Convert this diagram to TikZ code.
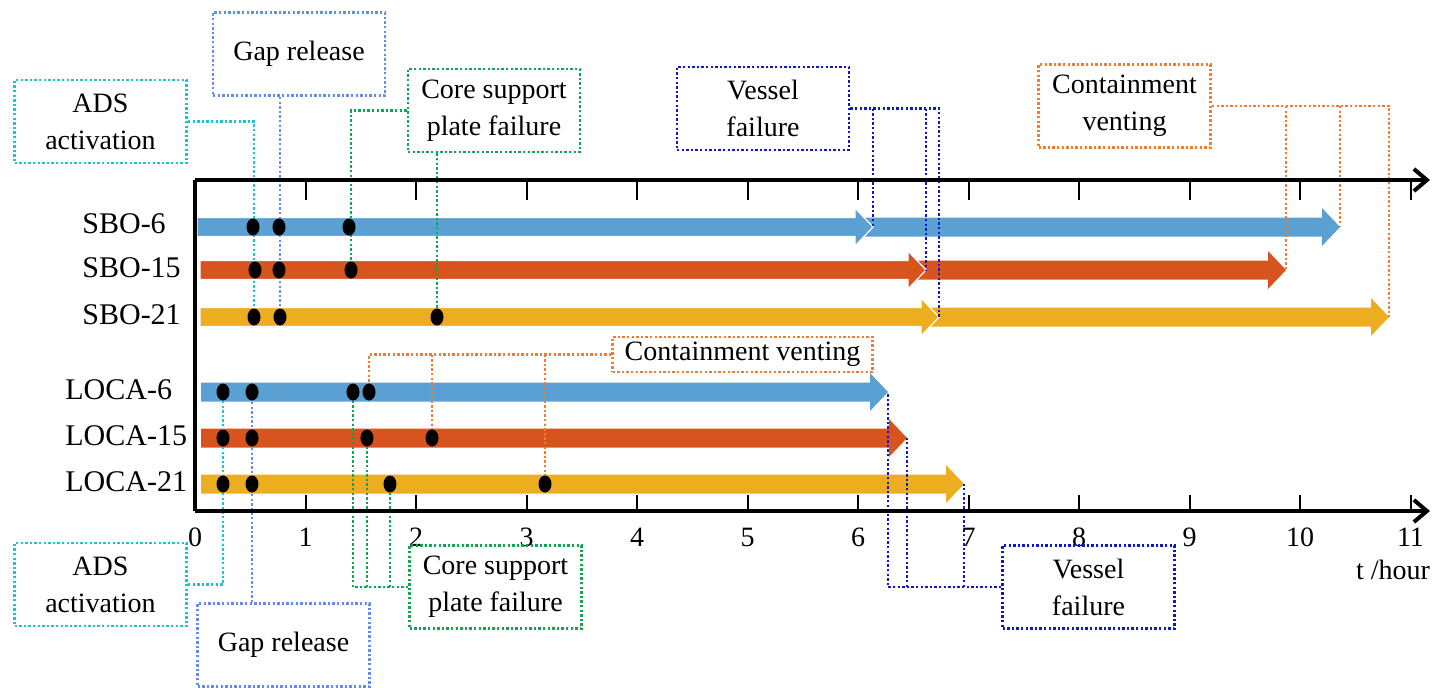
\documentclass[tikz,border=0pt]{standalone}
\usepackage{fontspec}
\setmainfont{Liberation Serif}
\usetikzlibrary{arrows.meta,shapes.geometric}
\definecolor{runblue}{RGB}{90,160,210}
\definecolor{runorange}{RGB}{216,84,30}
\definecolor{runyellow}{RGB}{236,174,32}
\definecolor{adscyan}{RGB}{30,195,205}
\definecolor{gaplav}{RGB}{100,140,235}
\definecolor{coregreen}{RGB}{15,165,85}
\definecolor{vesblue}{RGB}{15,25,190}
\definecolor{ventorange}{RGB}{237,125,49}
\pgfdeclarelayer{bars}
\pgfdeclarelayer{links}
\pgfsetlayers{bars,links,main}
% block arrow: from x, tip x, row y, look
\newcommand{\runbar}[4]{%
  \path[#4] (#1,#3-9.5) -- (#2-18,#3-9.5) -- (#2-18,#3-19) -- (#2,#3)
    -- (#2-18,#3+19) -- (#2-18,#3+9.5) -- (#1,#3+9.5) -- cycle;}

\begin{document}
\begin{tikzpicture}[x=0.5pt, y=-0.5pt,
      font=\fontsize{14}{18.5}\selectfont,
      evbox/.style={draw, line width=1.4pt, dash pattern=on 1.2pt off 1.1pt,
                    minimum width=86pt, minimum height=41.5pt,
                    align=center, inner sep=2pt},
      link/.style={line width=1.4pt, dash pattern=on 1.2pt off 1.1pt},
      dot/.style={ellipse, fill=black, minimum width=6.5pt,
                  minimum height=8.5pt, inner sep=0pt},
      axisline/.style={line width=2pt},
      tickmark/.style={line width=1pt},
      runlabel/.style={anchor=west, inner sep=0pt, font=\fontsize{15}{18}\selectfont}]
    \useasboundingbox (0,0) rectangle (1432,687);

    % axes
    \coordinate (topleft) at (195,180);
    \coordinate (origin) at (195,511);
    \coordinate (topend) at (1430,180);
    \coordinate (botend) at (1430,511);
    \draw[axisline, -{Straight Barb[length=6.5pt,width=11pt]}] (topleft) -- (topend);
    \draw[axisline, -{Straight Barb[length=6.5pt,width=11pt]}] (origin) -- (botend);
    \draw[axisline] (topleft) -- (origin);
    \foreach \t in {1,...,11} {
      \draw[tickmark] (195+110.5*\t,180) -- ++(0,20);
      \draw[tickmark] (195+110.5*\t,511) -- ++(0,-16);
    }
    \foreach \t in {0,...,11}
      \node (lab\t) at (195+110.5*\t,537) {\t};
    \node (unit) at (1393,570) {t /hour};

    % row labels
    \node[runlabel] (sbo6) at (82,224) {SBO-6};
    \node[runlabel] (sbo15) at (82,268) {SBO-15};
    \node[runlabel] (sbo21) at (82,315) {SBO-21};
    \node[runlabel] (loca6) at (65,390) {LOCA-6};
    \node[runlabel] (loca15) at (65,436) {LOCA-15};
    \node[runlabel] (loca21) at (65,482) {LOCA-21};

    % event boxes
    \node[evbox, draw=adscyan] (adsA) at (100.5,121.5) {ADS\\activation};
    \node[evbox, draw=gaplav] (gapA) at (299,54) {Gap release};
    \node[evbox, draw=coregreen] (coreA) at (494,110.5) {Core support\\plate failure};
    \node[evbox, draw=vesblue] (vesA) at (763,108.5) {Vessel\\failure};
    \node[evbox, draw=ventorange] (ventA) at (1124.5,106) {Containment\\venting};
    \node[evbox, draw=adscyan] (adsB) at (100.5,584.5) {ADS\\activation};
    \node[evbox, draw=gaplav] (gapB) at (283.5,645) {Gap release};
    \node[evbox, draw=coregreen] (coreB) at (495.5,587) {Core support\\plate failure};
    \node[evbox, draw=vesblue] (vesB) at (1088.5,587) {Vessel\\failure};
    \node[evbox, draw=ventorange, minimum width=130pt, minimum height=17.5pt]
      (ventB) at (742.5,354.5) {Containment venting};

    % event dots
    \node[dot] (s6-ads) at (253,227) {};
    \node[dot] (s6-gap) at (279,227) {};
    \node[dot] (s6-core) at (349,227) {};
    \node[dot] (s15-ads) at (255,270) {};
    \node[dot] (s15-gap) at (279,270) {};
    \node[dot] (s15-core) at (351,270) {};
    \node[dot] (s21-ads) at (254,317) {};
    \node[dot] (s21-gap) at (280,317) {};
    \node[dot] (s21-core) at (437,317) {};
    \node[dot] (l6-ads) at (223,392) {};
    \node[dot] (l6-gap) at (252,392) {};
    \node[dot] (l6-core) at (353,392) {};
    \node[dot] (l6-vent) at (369,392) {};
    \node[dot] (l15-ads) at (223,438) {};
    \node[dot] (l15-gap) at (252,438) {};
    \node[dot] (l15-core) at (367,438) {};
    \node[dot] (l15-vent) at (432,438) {};
    \node[dot] (l21-ads) at (223,484) {};
    \node[dot] (l21-gap) at (252,484) {};
    \node[dot] (l21-core) at (390,484) {};
    \node[dot] (l21-vent) at (545,484) {};

    % arrow tips
    \coordinate (s6-tipA) at (873,227);
    \coordinate (s6-tipB) at (1340,227);
    \coordinate (s15-tipA) at (926,270);
    \coordinate (s15-tipB) at (1286,270);
    \coordinate (s21-tipA) at (939,317);
    \coordinate (s21-tipB) at (1389,317);
    \coordinate (l6-tip) at (888,392);
    \coordinate (l15-tip) at (907,438);
    \coordinate (l21-tip) at (964,484);

    \begin{pgfonlayer}{bars}
      \runbar{860}{1340}{227}{fill=runblue}
      \runbar{197}{873}{227}{fill=runblue, draw=white, line width=0.6pt}
      \runbar{914}{1286}{270}{fill=runorange}
      \runbar{200}{926}{270}{fill=runorange, draw=white, line width=0.6pt}
      \runbar{927}{1389}{317}{fill=runyellow}
      \runbar{200}{939}{317}{fill=runyellow, draw=white, line width=0.6pt}
      \runbar{201}{888}{392}{fill=runblue}
      \runbar{201}{907}{438}{fill=runorange}
      \runbar{201}{964}{484}{fill=runyellow}
    \end{pgfonlayer}

    \begin{pgfonlayer}{links}
      \draw[link, adscyan] (adsA.east) -| (s21-ads);
      \draw[link, gaplav] (gapA.south -| s21-gap) -- (s21-gap);
      \draw[link, coregreen] (coreA.west) -| (s15-core);
      \draw[link, coregreen] (coreA.south -| s21-core) -- (s21-core);
      \draw[link, vesblue] (vesA.east) -| (s21-tipA);
      \draw[link, vesblue] (vesA.east -| s6-tipA) -- (s6-tipA);
      \draw[link, vesblue] (vesA.east -| s15-tipA) -- (s15-tipA);
      \draw[link, ventorange] (ventA.east) -| (s21-tipB);
      \draw[link, ventorange] (ventA.east -| s15-tipB) -- (s15-tipB);
      \draw[link, ventorange] (ventA.east -| s6-tipB) -- (s6-tipB);

      \draw[link, adscyan] (adsB.east) -| (l6-ads);
      \draw[link, gaplav] (gapB.north -| l6-gap) -- (l6-gap);
      \draw[link, coregreen] (coreB.west) -| (l6-core);
      \draw[link, coregreen] (coreB.west -| l15-core) -- (l15-core);
      \draw[link, coregreen] (coreB.west -| l21-core) -- (l21-core);
      \draw[link, ventorange] (ventB.west) -| (l6-vent);
      \draw[link, ventorange] (ventB.west -| l15-vent) -- (l15-vent);
      \draw[link, ventorange] (ventB.west -| l21-vent) -- (l21-vent);
      \draw[link, vesblue] (vesB.west) -| (l6-tip);
      \draw[link, vesblue] (vesB.west -| l15-tip) -- (l15-tip);
      \draw[link, vesblue] (vesB.west -| l21-tip) -- (l21-tip);
    \end{pgfonlayer}
  \end{tikzpicture}
\end{document}
